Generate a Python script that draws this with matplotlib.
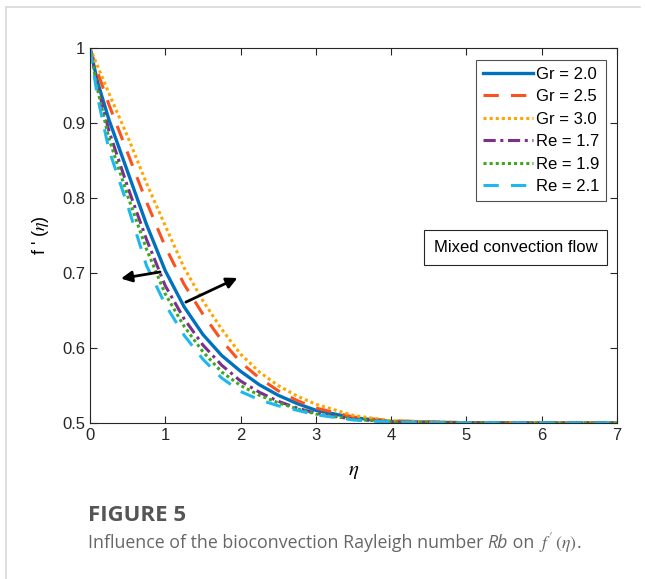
import numpy as np
import matplotlib
matplotlib.use('Agg')
import matplotlib.pyplot as plt
from matplotlib.lines import Line2D

plt.rcParams['font.family'] = ['Liberation Sans', 'DejaVu Sans']
plt.rcParams['mathtext.fontset'] = 'stix'

# eta grid and f'(eta) values
eta = [0, 0.1, 0.25, 0.5, 0.75, 1.0, 1.25, 1.5, 1.75, 2.0, 2.25, 2.5, 2.75,
       3.0, 3.5, 4.0, 5.0, 6.0, 7.0]
gr20 = [1.0, 0.955, 0.905, 0.835, 0.765, 0.703, 0.655, 0.618, 0.590, 0.569,
        0.551, 0.537, 0.526, 0.517, 0.507, 0.502, 0.5003, 0.5, 0.5]
gr25 = [1.0, 0.968, 0.925, 0.860, 0.795, 0.735, 0.685, 0.645, 0.610, 0.581,
        0.560, 0.543, 0.530, 0.520, 0.508, 0.503, 0.5004, 0.5, 0.5]
gr30 = [1.0, 0.976, 0.940, 0.882, 0.820, 0.763, 0.707, 0.663, 0.625, 0.592,
        0.568, 0.550, 0.536, 0.525, 0.510, 0.503, 0.5005, 0.5, 0.5]
re17 = [1.0, 0.950, 0.890, 0.815, 0.745, 0.683, 0.639, 0.604, 0.577, 0.556,
        0.541, 0.529, 0.520, 0.513, 0.505, 0.5015, 0.5002, 0.5, 0.5]
re19 = [1.0, 0.945, 0.880, 0.803, 0.732, 0.672, 0.629, 0.595, 0.568, 0.550,
        0.537, 0.527, 0.519, 0.512, 0.505, 0.5015, 0.5002, 0.5, 0.5]
re21 = [1.0, 0.935, 0.865, 0.790, 0.710, 0.658, 0.617, 0.585, 0.560, 0.542,
        0.531, 0.523, 0.517, 0.511, 0.504, 0.5012, 0.5002, 0.5, 0.5]

series = [
    ('Gr = 2.0', gr20, '#0072BD', '-', 2.4),
    ('Gr = 2.5', gr25, '#F9521E', (0, (5, 4)), 2.2),
    ('Gr = 3.0', gr30, '#FFA500', (0, (1, 1)), 2.2),
    ('Re = 1.7', re17, '#7E2F8E', (0, (4, 1.5, 1, 1.5)), 2.2),
    ('Re = 1.9', re19, '#3DA81C', (0, (1, 1)), 2.2),
    ('Re = 2.1', re21, '#1EB8EE', (0, (5, 4)), 2.2),
]

fig = plt.figure(figsize=(6.45, 5.79), dpi=100)
ax = fig.add_axes([0.1395, 0.2694, 0.8171, 0.6477])

for lab, vals, col, ls, lw in series:
    ax.plot(eta, vals, color=col, linestyle=ls, linewidth=lw, label=lab)

ax.set_xlim(0, 7)
ax.set_ylim(0.5, 1)
ax.set_xticks(range(0, 8))
ax.set_yticks([0.5, 0.6, 0.7, 0.8, 0.9, 1.0])
ax.set_yticklabels(['0.5', '0.6', '0.7', '0.8', '0.9', '1'])
ax.tick_params(direction='in', top=True, right=True, length=5, width=0.8,
               labelsize=12, colors='#262626')
for s in ax.spines.values():
    s.set_color('#262626')
    s.set_linewidth(0.8)

ax.set_xlabel(r'$\eta$', fontsize=15, labelpad=14)
ax.set_ylabel(r"f ' ($\eta$)", fontsize=13, labelpad=8)

leg = ax.legend(loc='upper right', bbox_to_anchor=(0.979, 0.968), fontsize=12,
                frameon=True, fancybox=False, edgecolor='#262626',
                handlelength=3.0, handletextpad=0.2, borderpad=0.4,
                labelspacing=0.45, borderaxespad=0)
leg.get_frame().set_linewidth(0.8)

ax.text(0.652, 0.467, 'Mixed convection flow', transform=ax.transAxes,
        fontsize=12, va='center', ha='left',
        bbox=dict(boxstyle='square,pad=0.6', fc='white', ec='#262626', lw=0.8))

# arrows
ax.annotate('', xy=(0.375, 0.692), xytext=(0.967, 0.702),
            arrowprops=dict(arrowstyle='-|>', color='black', lw=2,
                            mutation_scale=16))
ax.annotate('', xy=(1.992, 0.695), xytext=(1.24, 0.6596),
            arrowprops=dict(arrowstyle='-|>', color='black', lw=2,
                            mutation_scale=16))

# page frame lines
fig.add_artist(Line2D([0.0093, 0.0093], [0, 0.988], color='#d9d9d9', lw=1.2))
fig.add_artist(Line2D([0.0093, 0.992], [0.988, 0.988], color='#d9d9d9', lw=1.2))

cap_font = ['Open Sans', 'DejaVu Sans']
fig.text(0.136, 0.110, 'FIGURE 5', fontsize=16, fontweight='bold',
         color='#555555', family=cap_font, va='center')

# caption line assembled from pieces so that Rb is italic sans
renderer = fig.canvas.get_renderer()
x0 = 0.136
pieces = [('Influence of the bioconvection Rayleigh number ', 'normal'),
          ('Rb', 'italic'),
          (' on ', 'normal'),
          (r"$f\,'\,(\eta)$", 'normal'),
          ('.', 'normal')]
for txt, style in pieces:
    t = fig.text(x0, 0.062, txt, fontsize=12.8, color='#666666',
                 family=cap_font, style=style, va='center')
    bb = t.get_window_extent(renderer=renderer)
    x0 += bb.width / fig.bbox.width

fig.savefig('out.png', dpi=100)
